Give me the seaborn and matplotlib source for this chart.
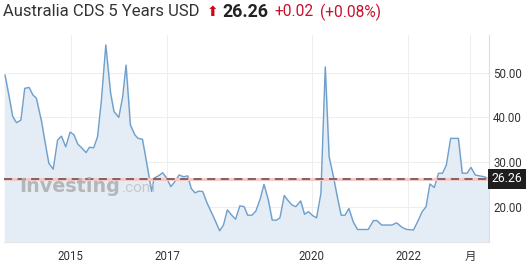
import matplotlib
matplotlib.use("Agg")
import matplotlib.pyplot as plt
import seaborn as sns
import pandas as pd

# ---- data ----
years = [2013.64, 2013.72, 2013.80, 2013.88, 2013.97, 2014.05, 2014.14, 2014.22, 2014.29, 2014.40,
         2014.47, 2014.55, 2014.64, 2014.73, 2014.81, 2014.90, 2014.99, 2015.07, 2015.15, 2015.23,
         2015.32, 2015.39, 2015.48, 2015.56, 2015.64, 2015.73, 2015.83, 2015.90, 2016.00, 2016.08,
         2016.15, 2016.24, 2016.33, 2016.40, 2016.49, 2016.58, 2016.68, 2016.73, 2016.82, 2016.91,
         2016.99, 2017.08, 2017.16, 2017.25, 2017.34, 2017.43, 2017.50, 2017.58, 2017.66, 2017.74,
         2017.83, 2017.93, 2018.01, 2018.09, 2018.17, 2018.25, 2018.34, 2018.42, 2018.51, 2018.60,
         2018.67, 2018.76, 2018.84, 2018.93, 2019.01, 2019.10, 2019.18, 2019.27, 2019.34, 2019.43,
         2019.50, 2019.59, 2019.67, 2019.77, 2019.85, 2019.93, 2020.02, 2020.10, 2020.19, 2020.28,
         2020.36, 2020.45, 2020.53, 2020.61, 2020.69, 2020.77, 2020.86, 2020.95, 2021.06, 2021.17,
         2021.28, 2021.35, 2021.45, 2021.56, 2021.66, 2021.76, 2021.87, 2021.97, 2022.11, 2022.21,
         2022.29, 2022.37, 2022.45, 2022.54, 2022.63, 2022.71, 2022.79, 2022.88, 2023.04, 2023.12,
         2023.22, 2023.30, 2023.39, 2023.48, 2023.58, 2023.66]
cds = [49.5, 45.0, 40.2, 38.8, 39.4, 46.5, 46.7, 45.0, 44.3, 39.0,
       34.5, 29.7, 28.4, 34.9, 35.8, 33.4, 36.7, 36.1, 34.0, 33.2,
       32.1, 33.3, 33.2, 35.7, 43.9, 56.2, 45.4, 41.3, 40.0, 44.6,
       51.7, 38.3, 36.1, 35.3, 35.1, 29.7, 23.4, 26.4, 26.9, 27.6,
       26.4, 24.5, 25.6, 27.1, 26.7, 26.9, 24.1, 23.1, 23.5, 23.4,
       20.8, 18.5, 16.6, 14.6, 15.9, 19.3, 18.1, 17.2, 20.2, 20.0,
       18.1, 18.1, 19.0, 21.7, 25.0, 21.5, 17.0, 17.0, 17.5, 22.5,
       21.5, 20.4, 20.0, 21.3, 18.3, 18.9, 18.0, 17.5, 23.0, 51.3,
       31.2, 26.7, 22.2, 18.1, 18.1, 19.6, 16.6, 14.9, 14.9, 14.9,
       16.9, 16.9, 15.9, 15.9, 15.9, 16.4, 15.4, 14.9, 14.8, 17.0,
       18.9, 20.0, 25.1, 24.3, 27.5, 27.5, 29.3, 35.3, 35.3, 27.5,
       27.5, 28.8, 27.1, 26.9, 26.7, 26.26]
last_value = 26.26
change = "+0.02"
change_pct = "(+0.08%)"
title = "Australia CDS 5 Years USD"
x_tick_pos = [2015, 2017, 2020, 2022, 2023.29]
x_tick_labels = ["2015", "2017", "2020", "2022", "月"]
y_ticks = [20, 30, 40, 50]

df = pd.DataFrame({"year": years, "cds": cds})

sns.set_theme(style="white")
plt.rcParams["font.family"] = ["Roboto", "Noto Sans CJK SC", "DejaVu Sans"]

W, H = 528, 265
fig = plt.figure(figsize=(W / 100, H / 100), dpi=100)
ax = fig.add_axes([4 / W, 1 - 242 / H, (489 - 4) / W, (242 - 35) / H])

line_c = "#6f9fcb"
ax.fill_between(df["year"], df["cds"], 0, color="#e4edf6", zorder=1)
sns.lineplot(data=df, x="year", y="cds", ax=ax, color=line_c, linewidth=1.0, zorder=3)

ax.set_xlim(2013.62, 2023.675)
ax.set_ylim(12.1, 58.44)

# reference line at last value
ax.axhline(last_value, color="#f2c9c9", linewidth=2.2, zorder=4)
ax.axhline(last_value, color="#7b5a5a", linewidth=1.3, dashes=(4.5, 3), zorder=5)

ax.set_xticks(x_tick_pos)
ax.set_xticklabels(x_tick_labels)
ax.set_yticks(y_ticks)
ax.set_yticklabels([f"{v:.2f}" for v in y_ticks])
ax.yaxis.tick_right()
ax.tick_params(axis="y", length=0, pad=3, labelsize=8.3, colors="#333333")
ax.tick_params(axis="x", length=0, pad=6, labelsize=8.3, colors="#333333")
ax.grid(True, color="#eeeeee", linewidth=0.8, zorder=0)
ax.set_axisbelow(True)
ax.set_xlabel("")
ax.set_ylabel("")
for s in ["left", "top"]:
    ax.spines[s].set_visible(False)
ax.spines["right"].set_color("#dddddd")
ax.spines["right"].set_linewidth(0.8)
ax.spines["bottom"].set_color("#e6e6e6")
ax.spines["bottom"].set_linewidth(0.8)

# last value tag
ax.annotate(f"{last_value:.2f}", xy=(1.0, last_value), xycoords=("axes fraction", "data"),
            xytext=(2, 0), textcoords="offset points", ha="left", va="center",
            fontsize=8.8, color="white",
            bbox=dict(boxstyle="square,pad=0.28", fc="#1e1e1e", ec="none"), zorder=10,
            annotation_clip=False)

# watermark
fig.text(19 / W, 1 - 186 / H, "Investing", fontsize=13.8, fontweight="bold",
         color="#b0b0b0", va="center", ha="left", family=["DejaVu Sans"], alpha=0.9, zorder=6)
fig.text(122 / W, 1 - 188 / H, ".com", fontsize=11, color="#c4c4c4",
         va="center", ha="left", alpha=0.9, zorder=6)

# header
ty = 1 - 12 / H
fig.text(3 / W, ty, title, fontsize=12.0, color="#333333", va="center", ha="left")
fig.text(207 / W, ty, "\u2b06", fontsize=10, color="#d0021b", va="center", ha="left",
         family=["DejaVu Sans"])
fig.text(222 / W, ty, f"{last_value:.2f}", fontsize=12.8, color="#222222",
         fontweight="bold", va="center", ha="left")
fig.text(274 / W, ty, change, fontsize=11.2, color="#c8102e", va="center", ha="left")
fig.text(320 / W, ty, change_pct, fontsize=11.2, color="#c8102e", va="center", ha="left")

fig.savefig("out.png", dpi=100)
